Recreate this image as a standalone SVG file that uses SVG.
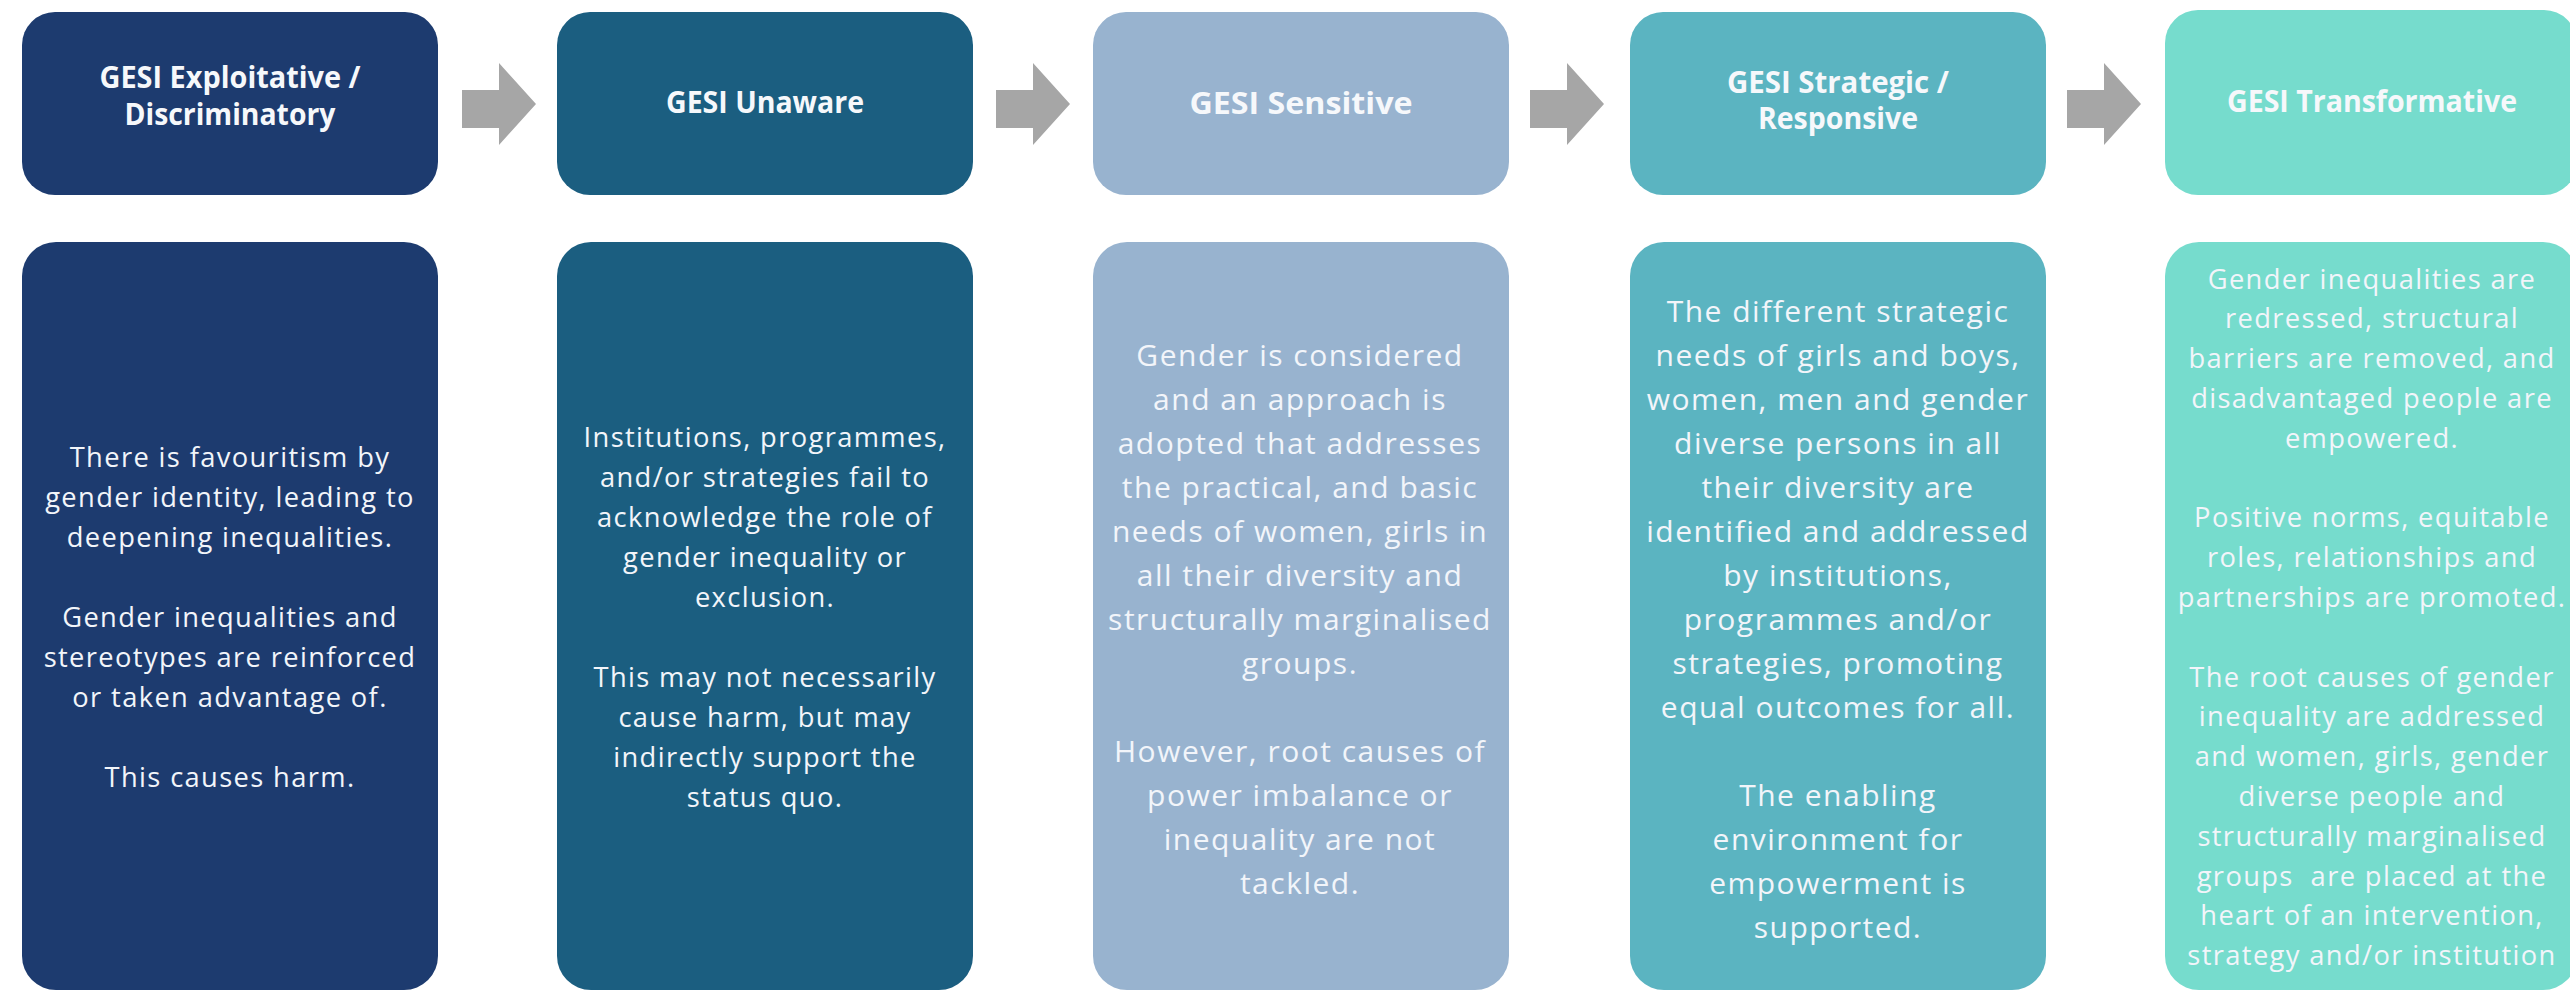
<svg xmlns="http://www.w3.org/2000/svg" width="2570" height="993" viewBox="0 0 2570 993">
<style>
.bg{fill:#ffffff}
.box{stroke:none}
.c1{fill:#1d3b6f}.c2{fill:#1b5e80}.c3{fill:#98b3cf}.c4{fill:#5bb4c1}.c5{fill:#76dccd}
.title{font-family:"Open Sans","Liberation Sans",sans-serif;font-weight:700;font-size:30px;fill:#f6f8fb;text-anchor:middle}
.body{font-family:"Open Sans","Liberation Sans",sans-serif;font-weight:400;fill:#f2f5fa;text-anchor:middle;letter-spacing:0.05em}
.s27{font-size:27.3px}.s30{font-size:30px}
.arrow{fill:#a6a6a6}
</style>
<rect class="bg" x="0" y="0" width="2570" height="993"/>

<g id="connectors">
<path class="arrow" d="M462,90 H499 V63 L536,104 L499,145 V128 H462 Z"/>
<path class="arrow" d="M996,90 H1033 V63 L1070,104 L1033,145 V128 H996 Z"/>
<path class="arrow" d="M1530,90 H1567 V63 L1604,104 L1567,145 V128 H1530 Z"/>
<path class="arrow" d="M2067,90 H2104 V63 L2141,104 L2104,145 V128 H2067 Z"/>
</g>

<g id="node-exploitative">
<rect class="box c1" x="22" y="12" width="416" height="183" rx="33"/>
<text class="title" x="230" y="88" textLength="261" lengthAdjust="spacingAndGlyphs">GESI Exploitative /</text>
<text class="title" x="230" y="124.5" textLength="211" lengthAdjust="spacingAndGlyphs">Discriminatory</text>
</g>
<g id="node-unaware">
<rect class="box c2" x="557" y="12" width="416" height="183" rx="33"/>
<text class="title" x="765" y="113" textLength="198" lengthAdjust="spacingAndGlyphs">GESI Unaware</text>
</g>
<g id="node-sensitive">
<rect class="box c3" x="1093" y="12" width="416" height="183" rx="33"/>
<text class="title" x="1301" y="114" textLength="223" lengthAdjust="spacingAndGlyphs">GESI Sensitive</text>
</g>
<g id="node-strategic">
<rect class="box c4" x="1630" y="12" width="416" height="183" rx="33"/>
<text class="title" x="1838" y="93" textLength="222" lengthAdjust="spacingAndGlyphs">GESI Strategic /</text>
<text class="title" x="1838" y="129" textLength="160" lengthAdjust="spacingAndGlyphs">Responsive</text>
</g>
<g id="node-transformative">
<rect class="box c5" x="2165" y="10" width="412" height="185" rx="33"/>
<text class="title" x="2372" y="112" textLength="290" lengthAdjust="spacingAndGlyphs">GESI Transformative</text>
</g>

<g id="desc-exploitative">
<rect class="box c1" x="22" y="242" width="416" height="748" rx="34"/>
<text class="body s27" x="230" y="466.5">There is favouritism by</text>
<text class="body s27" x="230" y="506.6">gender identity, leading to</text>
<text class="body s27" x="230" y="546.7">deepening inequalities.</text>
<text class="body s27" x="230" y="626.9">Gender inequalities and</text>
<text class="body s27" x="230" y="667">stereotypes are reinforced</text>
<text class="body s27" x="230" y="707.1">or taken advantage of.</text>
<text class="body s27" x="230" y="787.3">This causes harm.</text>
</g>
<g id="desc-unaware">
<rect class="box c2" x="557" y="242" width="416" height="748" rx="34"/>
<text class="body s27" x="765" y="446.5">Institutions, programmes,</text>
<text class="body s27" x="765" y="486.6">and/or strategies fail to</text>
<text class="body s27" x="765" y="526.7">acknowledge the role of</text>
<text class="body s27" x="765" y="566.8">gender inequality or</text>
<text class="body s27" x="765" y="606.9">exclusion.</text>
<text class="body s27" x="765" y="687.1">This may not necessarily</text>
<text class="body s27" x="765" y="727.2">cause harm, but may</text>
<text class="body s27" x="765" y="767.3">indirectly support the</text>
<text class="body s27" x="765" y="807.4">status quo.</text>
</g>
<g id="desc-sensitive">
<rect class="box c3" x="1093" y="242" width="416" height="748" rx="34"/>
<text class="body s30" x="1300" y="366">Gender is considered</text>
<text class="body s30" x="1300" y="410">and an approach is</text>
<text class="body s30" x="1300" y="454">adopted that addresses</text>
<text class="body s30" x="1300" y="498">the practical, and basic</text>
<text class="body s30" x="1300" y="542">needs of women, girls in</text>
<text class="body s30" x="1300" y="586">all their diversity and</text>
<text class="body s30" x="1300" y="630">structurally marginalised</text>
<text class="body s30" x="1300" y="674">groups.</text>
<text class="body s30" x="1300" y="762">However, root causes of</text>
<text class="body s30" x="1300" y="806">power imbalance or</text>
<text class="body s30" x="1300" y="850">inequality are not</text>
<text class="body s30" x="1300" y="894">tackled.</text>
</g>
<g id="desc-strategic">
<rect class="box c4" x="1630" y="242" width="416" height="748" rx="34"/>
<text class="body s30" x="1838" y="322">The different strategic</text>
<text class="body s30" x="1838" y="366">needs of girls and boys,</text>
<text class="body s30" x="1838" y="410">women, men and gender</text>
<text class="body s30" x="1838" y="454">diverse persons in all</text>
<text class="body s30" x="1838" y="498">their diversity are</text>
<text class="body s30" x="1838" y="542">identified and addressed</text>
<text class="body s30" x="1838" y="586">by institutions,</text>
<text class="body s30" x="1838" y="630">programmes and/or</text>
<text class="body s30" x="1838" y="674">strategies, promoting</text>
<text class="body s30" x="1838" y="718">equal outcomes for all.</text>
<text class="body s30" x="1838" y="806">The enabling</text>
<text class="body s30" x="1838" y="850">environment for</text>
<text class="body s30" x="1838" y="894">empowerment is</text>
<text class="body s30" x="1838" y="938">supported.</text>
</g>
<g id="desc-transformative">
<rect class="box c5" x="2165" y="242" width="412" height="748" rx="34"/>
<text class="body s27" x="2372" y="288.5">Gender inequalities are</text>
<text class="body s27" x="2372" y="328.3">redressed, structural</text>
<text class="body s27" x="2372" y="368.1">barriers are removed, and</text>
<text class="body s27" x="2372" y="407.9">disadvantaged people are</text>
<text class="body s27" x="2372" y="447.7">empowered.</text>
<text class="body s27" x="2372" y="527.3">Positive norms, equitable</text>
<text class="body s27" x="2372" y="567.1">roles, relationships and</text>
<text class="body s27" x="2372" y="606.9">partnerships are promoted.</text>
<text class="body s27" x="2372" y="686.5">The root causes of gender</text>
<text class="body s27" x="2372" y="726.3">inequality are addressed</text>
<text class="body s27" x="2372" y="766.1">and women, girls, gender</text>
<text class="body s27" x="2372" y="805.9">diverse people and</text>
<text class="body s27" x="2372" y="845.7">structurally marginalised</text>
<text class="body s27" x="2372" y="885.5" xml:space="preserve">groups  are placed at the</text>
<text class="body s27" x="2372" y="925.3">heart of an intervention,</text>
<text class="body s27" x="2372" y="965.1">strategy and/or institution</text>
</g>
</svg>
